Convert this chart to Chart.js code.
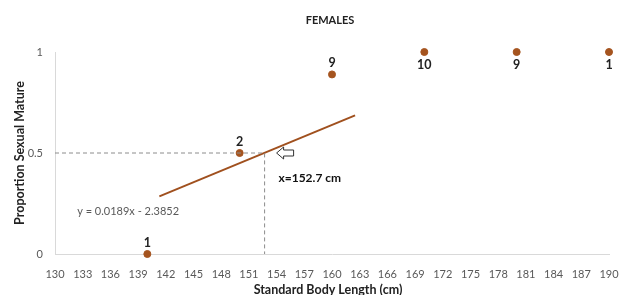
<!DOCTYPE html>
<html>
<head>
<meta charset="utf-8">
<script src="https://cdn.jsdelivr.net/npm/chart.js@4"></script>
<style>
  html, body { margin: 0; padding: 0; background: #fff; }
  #wrap { width: 621px; height: 295px; }
</style>
</head>
<body>
<div id="wrap"><canvas id="femalesChart" width="621" height="295"></canvas></div>
<script>
// body length classes (cm), proportion mature, sample size per class
const lengths = [140, 150, 160, 170, 180, 190];
const proportions = [0, 0.5, 0.889, 1, 1, 1];
const counts = [1, 2, 9, 10, 9, 1];
// count label goes above or below its point
const labelSide = ['above', 'above', 'above', 'below', 'below', 'below'];

const xTicks = [130, 133, 136, 139, 142, 145, 148, 151, 154, 157, 160, 163, 166, 169, 172, 175, 178, 181, 184, 187, 190];
const yTicks = [0, 0.5, 1];

// linear trendline y = 0.0189x - 2.3852, drawn between these lengths
const slope = 0.0189;
const intercept = -2.3852;
const trendRange = [141.3, 162.5];
const l50 = 152.7;

const brown = '#a5541f';
const fontFam = 'Lato, "Open Sans", sans-serif';

const trendData = trendRange.map((x) => ({ x: x, y: slope * x + intercept }));

const extrasPlugin = {
    id: 'extras',
    afterDatasetsDraw(chart) {
        const ctx = chart.ctx;
        const xs = chart.scales.x;
        const ys = chart.scales.y;
        ctx.save();
        // n labels
        ctx.font = 'bold 12.5px ' + fontFam;
        ctx.fillStyle = '#222';
        ctx.textAlign = 'center';
        lengths.forEach((x, i) => {
            const px = xs.getPixelForValue(x);
            const py = ys.getPixelForValue(proportions[i]);
            ctx.textBaseline = labelSide[i] === 'above' ? 'bottom' : 'top';
            const dy = labelSide[i] === 'above' ? -5 : 7;
            ctx.fillText(String(counts[i]), px, py + dy);
        });

        // hollow arrow pointing at L50
        const ax = xs.getPixelForValue(l50) + 12;
        const ay = ys.getPixelForValue(0.5);
        ctx.beginPath();
        ctx.moveTo(ax, ay);
        ctx.lineTo(ax + 7, ay - 6);
        ctx.lineTo(ax + 7, ay - 3);
        ctx.lineTo(ax + 17, ay - 3);
        ctx.lineTo(ax + 17, ay + 3);
        ctx.lineTo(ax + 7, ay + 3);
        ctx.lineTo(ax + 7, ay + 6);
        ctx.closePath();
        ctx.fillStyle = '#fff';
        ctx.fill();
        ctx.strokeStyle = '#333';
        ctx.lineWidth = 1;
        ctx.stroke();

        // L50 value
        ctx.fillStyle = '#111';
        ctx.font = 'bold 12px ' + fontFam;
        ctx.textAlign = 'left';
        ctx.textBaseline = 'middle';
        ctx.fillText('x=' + l50 + ' cm', xs.getPixelForValue(154.2), ys.getPixelForValue(0.376));

        // trendline equation
        ctx.fillStyle = '#595959';
        ctx.font = '11px ' + fontFam;
        ctx.fillText('y = ' + slope + 'x - ' + Math.abs(intercept), xs.getPixelForValue(132.4), ys.getPixelForValue(0.213));

        // titles
        const ca = chart.chartArea;
        ctx.fillStyle = '#222';
        ctx.textAlign = 'center';
        ctx.font = 'bold 11px ' + fontFam;
        ctx.fillText('FEMALES', 330, 20);
        ctx.font = 'bold 12.5px ' + fontFam;
        ctx.fillText('Standard Body Length (cm)', 328, 290);
        ctx.translate(20, (ca.top + ca.bottom) / 2);
        ctx.rotate(-Math.PI / 2);
        ctx.fillText('Proportion Sexual Mature', 0, 0);
        ctx.restore();
    }
};

new Chart(document.getElementById('femalesChart').getContext('2d'), {
    type: 'scatter',
    data: {
        datasets: [
            {
                label: 'L50 guide',
                type: 'line',
                data: [{ x: 130, y: 0.5 }, { x: l50, y: 0.5 }, { x: l50, y: 0 }],
                borderColor: '#8c8c8c',
                borderWidth: 1,
                borderDash: [4, 3],
                pointRadius: 0,
                fill: false,
            },
            {
                label: 'Trendline',
                type: 'line',
                data: trendData,
                borderColor: '#a0501e',
                borderWidth: 2,
                pointRadius: 0,
                fill: false,
            },
            {
                label: 'Proportion mature',
                data: lengths.map((x, i) => ({ x: x, y: proportions[i] })),
                backgroundColor: brown,
                borderColor: brown,
                pointRadius: 3.5,
                clip: false,
            },
        ],
    },
    options: {
        responsive: false,
        animation: false,
        layout: { padding: { top: 52, right: 12, left: 0, bottom: 0 } },
        plugins: {
            legend: { display: false },
            tooltip: { enabled: false },
        },
        scales: {
            x: {
                type: 'linear',
                min: 130,
                max: 190,
                afterBuildTicks: (scale) => { scale.ticks = xTicks.map((v) => ({ value: v })); },
                afterFit: (scale) => {
                    scale.height = 41;
                    scale.paddingRight = 0;
                    scale.paddingLeft = 0;
                },
                grid: { display: false },
                border: { color: '#d9d9d9' },
                ticks: {
                    color: '#595959',
                    font: { family: fontFam, size: 11 },
                    padding: 6,
                    maxRotation: 0,
                    autoSkip: false,
                },
            },
            y: {
                min: 0,
                max: 1,
                afterBuildTicks: (scale) => { scale.ticks = yTicks.map((v) => ({ value: v })); },
                afterFit: (scale) => { scale.width = 55; },
                grid: { display: false },
                border: { color: '#d9d9d9' },
                ticks: {
                    color: '#595959',
                    font: { family: fontFam, size: 11 },
                    padding: 4,
                    callback: (v) => String(v),
                },
            },
        },
    },
    plugins: [extrasPlugin],
});
</script>
</body>
</html>
